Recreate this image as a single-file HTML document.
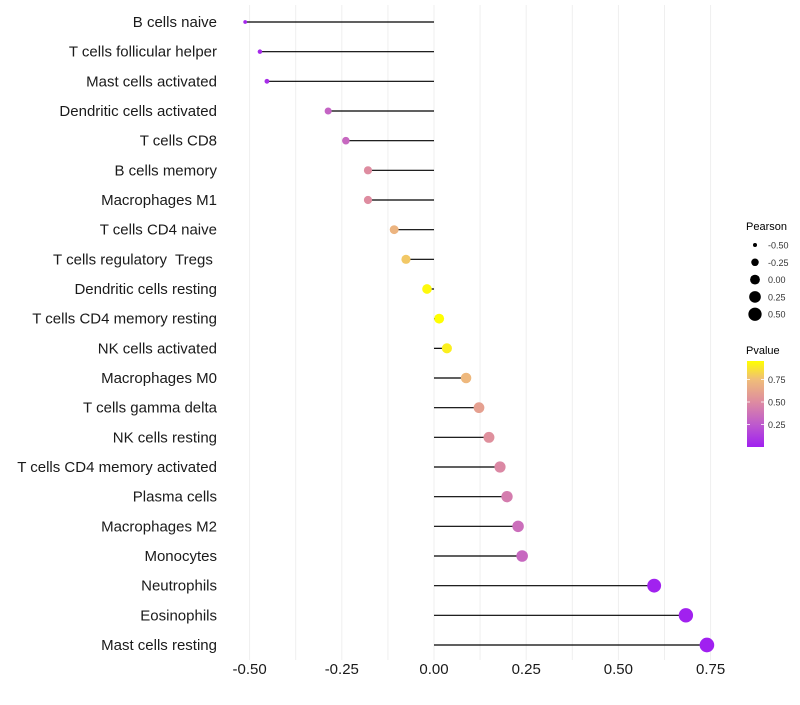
<!DOCTYPE html>
<html><head><meta charset="utf-8">
<style>
body{margin:0;background:#fff;}
svg text{font-family:"Liberation Sans",Arial,sans-serif;white-space:pre;}
</style></head>
<body>
<svg id="chart" width="800" height="700" xmlns="http://www.w3.org/2000/svg">
<g id="grid"></g>
<g id="ylabels"></g>
<g id="xlabels"></g>
<g id="marks"></g>
<g id="legend"></g>
</svg>
<script>
const categories = ["B cells naive","T cells follicular helper","Mast cells activated","Dendritic cells activated","T cells CD8","B cells memory","Macrophages M1","T cells CD4 naive","T cells regulatory  Tregs ","Dendritic cells resting","T cells CD4 memory resting","NK cells activated","Macrophages M0","T cells gamma delta","NK cells resting","T cells CD4 memory activated","Plasma cells","Macrophages M2","Monocytes","Neutrophils","Eosinophils","Mast cells resting"];
const pearson = [-0.512,-0.472,-0.453,-0.287,-0.239,-0.179,-0.179,-0.108,-0.076,-0.019,0.014,0.035,0.087,0.122,0.149,0.179,0.198,0.228,0.239,0.597,0.683,0.740];
const pvalue = [0.03,0.04,0.06,0.3,0.32,0.5,0.5,0.7,0.78,0.93,0.95,0.9,0.72,0.6,0.52,0.48,0.42,0.35,0.32,0.01,0.005,0.002];
const xTicks = [-0.5,-0.25,0,0.25,0.5,0.75];
const xTickLabels = ["-0.50","-0.25","0.00","0.25","0.50","0.75"];
const sizeLegendValues = [-0.5,-0.25,0,0.25,0.5];
const sizeLegendLabels = ["-0.50","-0.25","0.00","0.25","0.50"];
const colorLegendValues = [0.25,0.5,0.75];
const colorLegendLabels = ["0.25","0.50","0.75"];

const NS="http://www.w3.org/2000/svg";
function mk(tag,attrs,parent){const e=document.createElementNS(NS,tag);for(const k in attrs)e.setAttribute(k,attrs[k]);parent.appendChild(e);return e;}
const x = v => 434 + v*368.8;
const y = i => 22 + i*(623/21);
const rad = v => Math.sqrt(Math.max(2.5, 4 + (v+0.5)*40));
function lerp(a,b,t){return Math.round(a+(b-a)*t);}
function color(p){
  const stops=[[0,[160,32,240]],[0.25,[190,90,205]],[0.5,[222,140,160]],[0.75,[240,190,120]],[0.95,[255,255,0]]];
  p=Math.max(0,Math.min(0.95,p));
  for(let i=0;i<stops.length-1;i++){const[a,ca]=stops[i],[b,cb]=stops[i+1];
    if(p<=b){const t=(p-a)/(b-a);return `rgb(${lerp(ca[0],cb[0],t)},${lerp(ca[1],cb[1],t)},${lerp(ca[2],cb[2],t)})`;}}
  return "rgb(255,255,0)";
}
const grid=document.getElementById('grid');
for(let v=-0.5;v<=0.751;v+=0.125){
  const l=mk('line',{x1:x(v),x2:x(v),y1:5,y2:660,stroke:'#efefef','stroke-width':1},grid);
  
  
}
const xl=document.getElementById('xlabels');
xTicks.forEach((v,i)=>{
  const t=mk('text',{x:x(v),y:674,'text-anchor':'middle','font-size':15,fill:'#1a1a1a'},xl);
  t.textContent=xTickLabels[i];
  
  
});
const yl=document.getElementById('ylabels');
const mg=document.getElementById('marks');
categories.forEach((c,i)=>{
  const t=mk('text',{x:217,y:y(i)+5,'text-anchor':'end','font-size':15,fill:'#1a1a1a'},yl);
  t.textContent=c;
  
  
  const s=mk('line',{x1:x(0),x2:x(pearson[i]),y1:y(i),y2:y(i),stroke:'#000','stroke-width':1.2},mg);
  
  
  const p=mk('circle',{cx:x(pearson[i]),cy:y(i),r:rad(pearson[i]),fill:color(pvalue[i])},mg);
  
  
});
const lg=document.getElementById('legend');
let tt=mk('text',{x:746,y:230,'font-size':11,fill:'#000'},lg);tt.textContent="Pearson";


sizeLegendValues.forEach((v,i)=>{
  const cy=245+i*17.3;
  const c=mk('circle',{cx:755,cy:cy,r:rad(v),fill:'#000'},lg);
  
  
  const t=mk('text',{x:768,y:cy+3.5,'font-size':9,fill:'#333'},lg);t.textContent=sizeLegendLabels[i];
  
  
});
tt=mk('text',{x:746,y:354,'font-size':11,fill:'#000'},lg);tt.textContent="Pvalue";


const defs=mk('defs',{},lg);
const gr=mk('linearGradient',{id:'pg',x1:0,y1:1,x2:0,y2:0},defs);
[[0,0],[0.263,0.25],[0.526,0.5],[0.789,0.75],[1,0.95]].forEach(([o,p])=>mk('stop',{offset:o,'stop-color':color(p)},gr));
const bar=mk('rect',{x:747,y:361,width:17,height:86,fill:'url(#pg)'},lg);


const cy = p => 447 - p*90;
colorLegendValues.forEach((v,i)=>{
  mk('line',{x1:747,x2:750,y1:cy(v),y2:cy(v),stroke:'#fff','stroke-width':0.8},lg);
  mk('line',{x1:761,x2:764,y1:cy(v),y2:cy(v),stroke:'#fff','stroke-width':0.8},lg);
  const t=mk('text',{x:768,y:cy(v)+3.5,'font-size':9,fill:'#333'},lg);t.textContent=colorLegendLabels[i];
  
  
});
</script>
</body></html>
